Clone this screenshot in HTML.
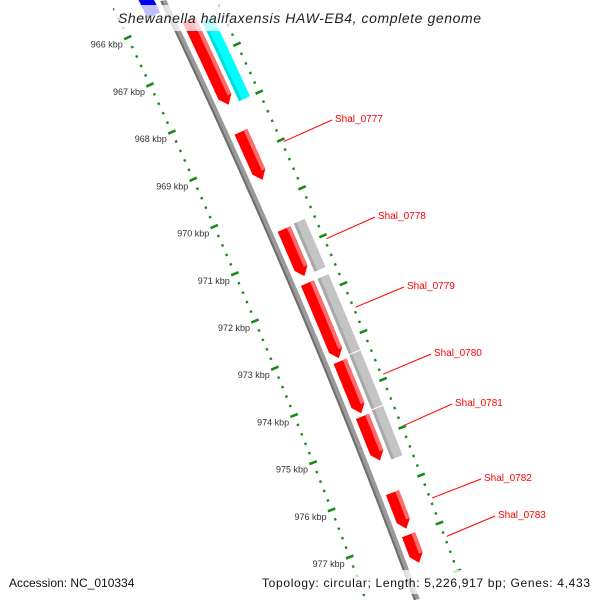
<!DOCTYPE html>
<html><head><meta charset="utf-8"><style>
html,body{margin:0;padding:0;background:#fff;width:600px;height:600px;overflow:hidden}
svg{display:block;font-family:"Liberation Sans",sans-serif;overflow:hidden}
</style></head><body>
<svg id="map" width="600" height="600" viewBox="0 0 600 600" xmlns="http://www.w3.org/2000/svg">
<defs><clipPath id="frame"><rect x="0" y="0" width="600" height="600"/></clipPath></defs>
<g clip-path="url(#frame)">
<g id="ticks"></g>
<g id="backbone"></g>
<g id="feats"></g>
<g id="labels"></g>
</g>
<rect x="114" y="5" width="372" height="26" fill="#fff" opacity="0.75"/>
<text x="118" y="23" textLength="363" lengthAdjust="spacing" font-size="14" font-style="italic" fill="#222">Shewanella halifaxensis HAW-EB4, complete genome</text>
<rect x="4" y="570" width="132" height="24" fill="#fff" opacity="0.75"/>
<rect x="257" y="570" width="338" height="24" fill="#fff" opacity="0.75"/>
<text x="9" y="587" font-size="12" fill="#111">Accession: NC_010334</text>
<text x="262" y="587" textLength="328" lengthAdjust="spacing" font-size="12" fill="#111">Topology: circular; Length: 5,226,917 bp; Genes: 4,433</text>
</svg>
<script>
const tickKbp=[966,967,968,969,970,971,972,973,974,975,976,977];
const featStart=[-30,26,138,235,289,367,422,498,540];
const featEnd=[9,111,186,282,364,419,466,534,568];
const featType=['blue','red','red','red','red','red','red','red','red'];
const boxStart=[33,234,289,365,420];
const boxEnd=[113,283,365,420,470];
const boxType=['cyan','gray','gray','gray','gray'];
const geneNames=['Shal_0777','Shal_0778','Shal_0779','Shal_0780','Shal_0781','Shal_0782','Shal_0783'];
const geneFeat=[2,3,4,5,6,7,8];
const labelX=[335,378,407,434,455,484,498];
const labelY=[122,219,289,356,406,481,518];

const NS='http://www.w3.org/2000/svg';
const A=163,Bc=0.4783,C=-0.0000917;
function bx(y){return A+Bc*y+C*y*y;}
function P(yb,o){const s=Bc+2*C*yb,n=Math.hypot(1,s);return [bx(yb)+o/n,yb-o*s/n];}
function kToYb(k){return 17+(k-966)*47.55;}
function mk(tag,attrs,parent){const e=document.createElementNS(NS,tag);for(const k in attrs)e.setAttribute(k,attrs[k]);parent.appendChild(e);return e;}
function band(y1,y2,o1,o2){const pts=[];for(let y=y1;y<=y2;y+=2)pts.push(P(y,o1));pts.push(P(y2,o1));pts.push(P(y2,o2));for(let y=y2;y>=y1;y-=2)pts.push(P(y,o2));pts.push(P(y1,o2));return pts.map(p=>p[0].toFixed(1)+','+Math.max(0,Math.min(600,p[1])).toFixed(1)).join(' ');}
function arrow(y1,y2,o1,o2,h){const pts=[];const ye=y2-h;for(let y=y1;y<=ye;y+=2)pts.push(P(y,o1));pts.push(P(ye,o1));pts.push(P(y2,(o1+o2)/2));pts.push(P(ye,o2));for(let y=ye;y>=y1;y-=2)pts.push(P(y,o2));pts.push(P(y1,o2));return pts.map(p=>p[0].toFixed(1)+','+p[1].toFixed(1)).join(' ');}

const bb=document.getElementById('backbone');
const p1=mk('polygon',{points:band(0,600,-3,3),fill:'#9a9a9a'},bb);

const p2=mk('polygon',{points:band(0,600,-3,-1),fill:'#6e6e6e'},bb);


const tg=document.getElementById('ticks');
const startK=tickKbp[0]-1,endK=tickKbp[tickKbp.length-1]+1;
for(let i=Math.round(startK*5);i<=Math.round(endK*5);i++){
  const k=i/5;const major=(i%5===0);const yb=kToYb(k);
  [-48,48].forEach(o=>{
    const half=major?4:1.2;
    const a=P(yb,o-half),b=P(yb,o+half);
    if(Math.min(a[1],b[1])<0||Math.max(a[1],b[1])>599)return;
    const l=mk('line',{x1:a[0],y1:a[1],x2:b[0],y2:b[1],stroke:'#1a8a1a','stroke-width':major?2.6:2.4},tg);
    
    
  });
}
tickKbp.forEach(k=>{
  const p=P(kToYb(k),-48);
  const t=mk('text',{x:p[0]-5,y:p[1]+10,'text-anchor':'end','font-size':9,fill:'#333'},tg);
  t.textContent=k+' kbp';
  
  
});

const fg=document.getElementById('feats');
boxStart.forEach((s,i)=>{
  const e=boxEnd[i];
  const main=boxType[i]==='cyan'?'#00ffff':'#c4c4c4';
  const dark=boxType[i]==='cyan'?'#00dede':'#a9a9a9';
  const g=mk('g',{},fg);
  
  
  mk('polygon',{points:band(s,e-1,26,38),fill:main},g);
  mk('polygon',{points:band(s,e-1,26,29),fill:dark},g);
});
featStart.forEach((s,i)=>{
  const e=featEnd[i];
  const g=mk('g',{},fg);
  
  
  if(featType[i]==='blue'){
    mk('polygon',{points:band(s,e,-22,-8),fill:'#0000ee'},g);
  }else{
    mk('polygon',{points:arrow(s,e,8,22,8),fill:'#ff0000'},g);
    mk('polygon',{points:band(s,e-8,18,22),fill:'#ff6a6a'},g);
  }
});

const lg=document.getElementById('labels');
geneNames.forEach((nm,i)=>{
  const f=geneFeat[i];const mid=(featStart[f]+featEnd[f])/2;
  const a=P(mid,50);
  const l=mk('line',{x1:a[0],y1:a[1],x2:labelX[i]-3,y2:labelY[i]-2,stroke:'#ff0000','stroke-width':1},lg);
  
  
  const t=mk('text',{x:labelX[i],y:labelY[i],'font-size':10,fill:'#ff0000'},lg);
  t.textContent=nm;
  
  
});
</script>
</body></html>
